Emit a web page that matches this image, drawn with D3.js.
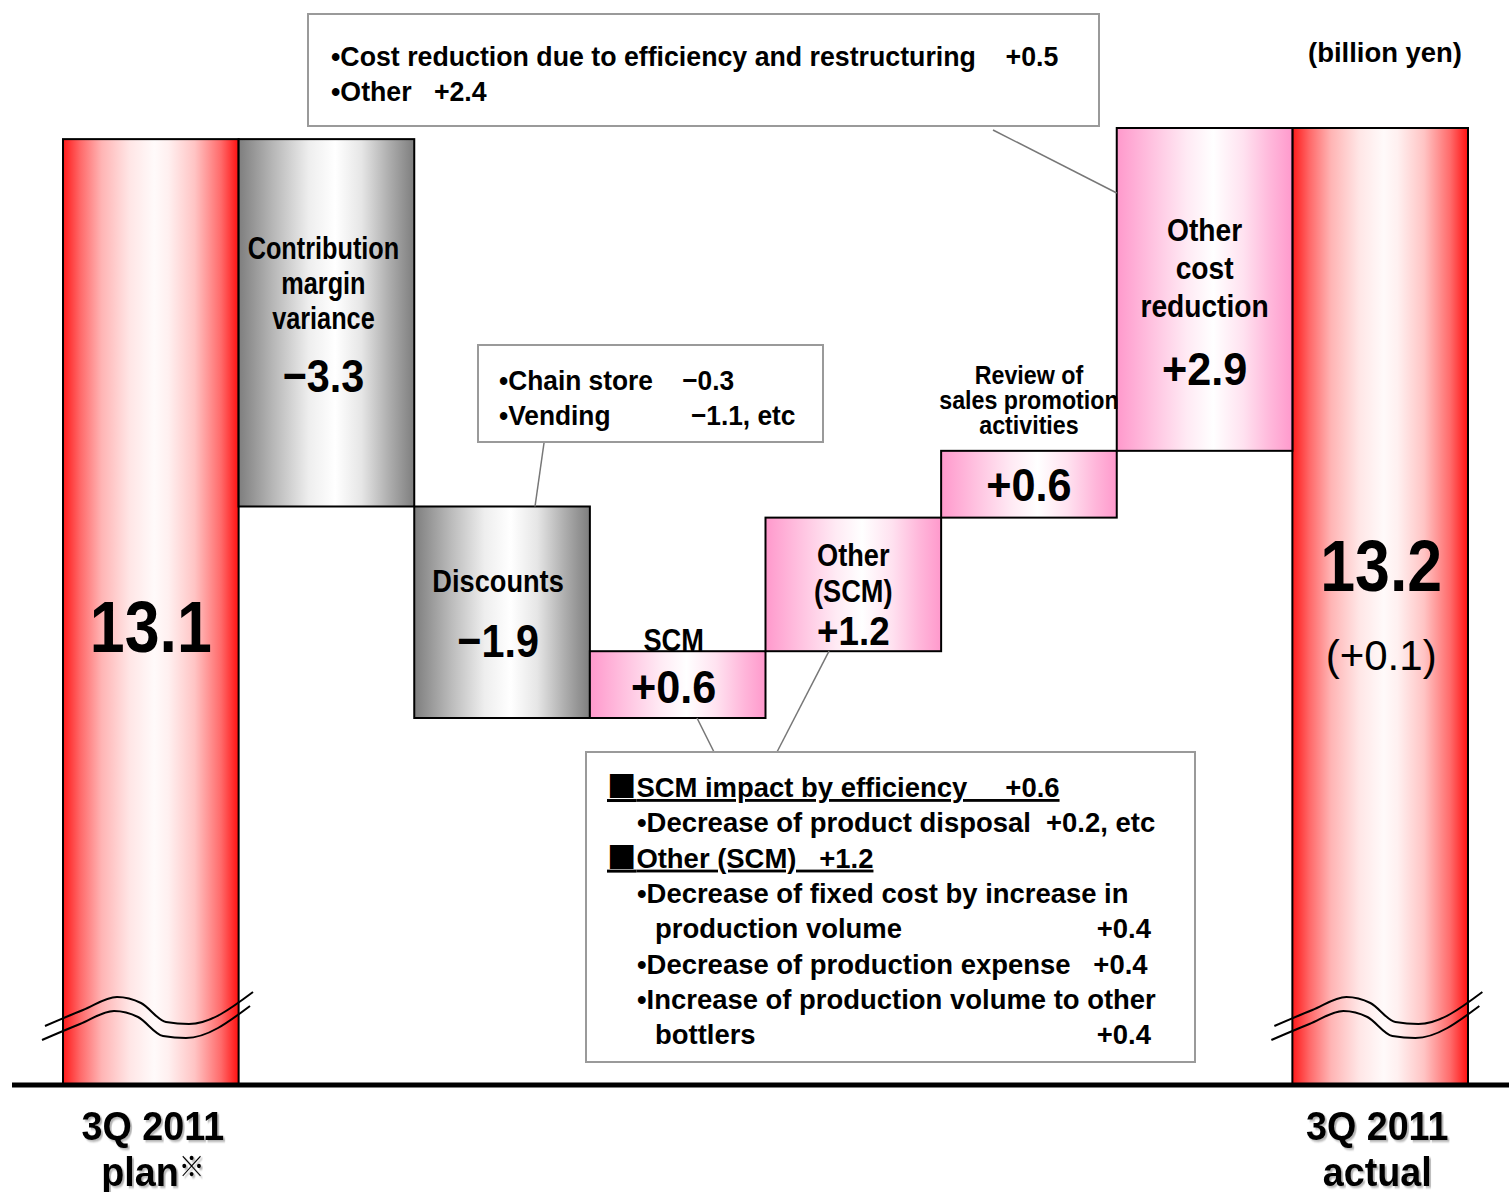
<!DOCTYPE html>
<html>
<head>
<meta charset="utf-8">
<script src="https://cdn.jsdelivr.net/npm/d3@7"></script>
<style>
  html, body { margin: 0; padding: 0; background: #fff; }
  svg { display: block; }
  text { font-family: "Liberation Sans", Arial, "Noto Sans CJK JP", sans-serif; font-weight: bold; fill: #000; white-space: pre; }
  .cjk { font-family: "Noto Sans CJK JP", sans-serif; }
</style>
</head>
<body>
<svg id="chart" width="1509" height="1192"></svg>
<script>
// Operating income bridge, 3Q 2011 plan -> actual (billion yen)
const categories = ["3Q 2011 plan※", "Contribution margin variance", "Discounts", "SCM",
                    "Other (SCM)", "Review of sales promotion activities", "Other cost reduction", "3Q 2011 actual"];
const startValue = 13.1;
const deltas = [-3.3, -1.9, 0.6, 1.2, 0.6, 2.9];
const endValue = 13.2;
const endChange = 0.1;
const axisLabels = [["3Q 2011", "plan", "※"], ["3Q 2011", "actual", ""]];
const barNames = [
  ["Contribution", "margin", "variance"],
  ["Discounts"],
  ["SCM"],
  ["Other", "(SCM)"],
  ["Review of", "sales promotion", "activities"],
  ["Other", "cost", "reduction"]
];
const unitLabel = "(billion yen)";
const noteCost = ["•Cost reduction due to efficiency and restructuring    +0.5", "•Other   +2.4"];
const noteDiscounts = ["•Chain store    −0.3", "•Vending           −1.1, etc"];
const noteSCM = [
  { m: "■", t: "SCM impact by efficiency     +0.6", x: 0 },
  { t: "•Decrease of product disposal  +0.2, etc", x: 30 },
  { m: "■", t: "Other (SCM)   +1.2", x: 0 },
  { t: "•Decrease of fixed cost by increase in", x: 30 },
  { t: "production volume", x: 48, v: "+0.4" },
  { t: "•Decrease of production expense   +0.4", x: 30 },
  { t: "•Increase of production volume to other", x: 30 },
  { t: "bottlers", x: 48, v: "+0.4" }
];

const svg = d3.select("#chart");
const W = 1509;
const baseY = 1085;

const x = d3.scaleBand().domain(categories).range([63, 1468]).padding(0);
const y = d3.scaleLinear().domain([7.9, 13.2]).range([718, 128]);

// Gradients
const defs = svg.append("defs");
function grad(id, stops) {
  const g = defs.append("linearGradient").attr("id", id).attr("x1", 0).attr("x2", 1).attr("y1", 0).attr("y2", 0);
  stops.forEach(([o, c]) => g.append("stop").attr("offset", o).attr("stop-color", c));
}
grad("gRed", [[0, "#ff1a1a"], [0.1, "#ff6a6a"], [0.22, "#ffb4b4"], [0.38, "#ffe6e6"], [0.52, "#fffafa"], [0.6, "#fff0f0"], [0.75, "#ffc4c4"], [0.9, "#ff6a6a"], [1, "#ff1010"]]);
grad("gGray", [[0, "#7e7e7e"], [0.2, "#b8b8b8"], [0.4, "#eeeeee"], [0.55, "#ffffff"], [0.7, "#e6e6e6"], [0.85, "#b0b0b0"], [1, "#7e7e7e"]]);
grad("gPink", [[0, "#ff99cc"], [0.2, "#ffc2e0"], [0.4, "#ffeaf4"], [0.55, "#ffffff"], [0.72, "#ffe2f0"], [0.88, "#ffb6da"], [1, "#ff99cc"]]);
const sh = defs.append("filter").attr("id", "shadow").attr("x", "-10%").attr("y", "-10%").attr("width", "130%").attr("height", "130%");
sh.append("feDropShadow").attr("dx", 2).attr("dy", 2).attr("stdDeviation", 0.8).attr("flood-color", "#000").attr("flood-opacity", 0.3);

// Step bars
const steps = [];
let run = startValue;
deltas.forEach((d, i) => {
  const from = run, to = run + d;
  steps.push({ cat: categories[i + 1], d, from, to, top: y(Math.max(from, to)), bottom: y(Math.min(from, to)) });
  run = to;
});

const gBars = svg.append("g");
// Totals (broken axis: extend to baseline)
const totals = [
  { cat: categories[0], v: startValue },
  { cat: categories[categories.length - 1], v: endValue }
];
gBars.selectAll("rect.total").data(totals).join("rect")
  .attr("class", "total")
  .attr("x", d => x(d.cat)).attr("width", x.bandwidth())
  .attr("y", d => y(d.v)).attr("height", d => baseY - y(d.v))
  .attr("fill", "url(#gRed)").attr("stroke", "#000").attr("stroke-width", 2);

gBars.selectAll("rect.step").data(steps).join("rect")
  .attr("class", "step")
  .attr("x", d => x(d.cat)).attr("width", x.bandwidth())
  .attr("y", d => d.top).attr("height", d => d.bottom - d.top)
  .attr("fill", d => d.d < 0 ? "url(#gGray)" : "url(#gPink)")
  .attr("stroke", "#000").attr("stroke-width", 2);

// Axis break marks (two parallel wavy lines)
const breakShape = [[-18, 35], [20, 19], [54, 6], [78, 12], [103, 31], [126, 33], [190, 1]];
const wave = d3.line().curve(d3.curveMonotoneX);
totals.forEach(t => {
  const x0 = x(t.cat);
  [[0, 0], [-3, 14]].forEach(([ox, oy]) => {
    svg.append("path")
      .attr("d", wave(breakShape.map(([dx, dy]) => [x0 + dx + ox, 991 + dy + oy])))
      .attr("fill", "none").attr("stroke", "#000").attr("stroke-width", 2);
  });
});

// Baseline
svg.append("line").attr("x1", 12).attr("x2", W).attr("y1", baseY).attr("y2", baseY)
  .attr("stroke", "#000").attr("stroke-width", 5);

// Text helper: horizontally condensed text anchored at (tx, ty)
function txt(str, tx, ty, size, k, anchor) {
  return svg.append("text")
    .attr("transform", `translate(${tx},${ty}) scale(${k},1)`)
    .attr("text-anchor", anchor || "middle")
    .attr("font-size", size).text(str);
}
function fmt(v) { return (v > 0 ? "+" : "−") + Math.abs(v).toFixed(1); }

// Totals labels
const cxL = x(categories[0]) + x.bandwidth() / 2;
const cxR = x(categories[7]) + x.bandwidth() / 2;
txt(startValue.toFixed(1), cxL, 652, 72, 0.87);
txt(endValue.toFixed(1), cxR + 1, 591, 72, 0.87);
txt("(" + (endChange > 0 ? "+" : "−") + Math.abs(endChange).toFixed(1) + ")", cxR + 1, 670, 42, 1).style("font-weight", "normal");

// Step labels
const cx = i => x(steps[i].cat) + x.bandwidth() / 2;
// Contribution margin variance
barNames[0].forEach((s, k) => txt(s, cx(0) - 3, steps[0].top + 120 + 35 * k, 32, 0.79));
txt(fmt(deltas[0]), cx(0) - 3, steps[0].top + 253, 47, 0.88);
// Discounts
txt(barNames[1][0], cx(1) - 4, steps[1].bottom - 126, 32, 0.85);
txt(fmt(deltas[1]), cx(1) - 4, steps[1].bottom - 61, 47, 0.88);
// SCM
txt(barNames[2][0], cx(2) - 4, steps[2].top, 32, 0.85);
txt(fmt(deltas[2]), cx(2) - 4, steps[2].top + 52, 47, 0.92);
// Other (SCM)
txt(barNames[3][0], cx(3), steps[3].bottom - 85, 32, 0.85);
txt(barNames[3][1], cx(3), steps[3].bottom - 49, 32, 0.85);
txt(fmt(deltas[3]), cx(3), steps[3].bottom - 6, 40, 0.92);
// Review of sales promotion activities
barNames[4].forEach((s, k) => txt(s, cx(4), steps[4].top - 67 + 25 * k, 25, 0.93));
txt(fmt(deltas[4]), cx(4), steps[4].top + 50, 47, 0.92);
// Other cost reduction
barNames[5].forEach((s, k) => txt(s, cx(5), steps[5].top + 113 + 38 * k, 32, 0.88));
txt(fmt(deltas[5]), cx(5), steps[5].top + 257, 47, 0.92);

// Category labels below axis
[cxL + 2, cxR - 3].forEach((c, i) => {
  const [l1, l2, mark] = axisLabels[i];
  txt(l1, c, 1140, 41, 0.92).attr("filter", "url(#shadow)");
  const t2 = txt(l2, c, 1186, 41, 0.92).attr("filter", "url(#shadow)");
  if (mark) {
    t2.text(null);
    t2.append("tspan").text(l2);
    t2.append("tspan").attr("class", "cjk").attr("font-size", 28).attr("dy", -9).text(mark);
  }
});

// Unit
txt(unitLabel, 1462, 62, 28, 0.98, "end");

// Callout boxes
function box(x0, y0, w, h) {
  svg.append("rect").attr("x", x0).attr("y", y0).attr("width", w).attr("height", h)
    .attr("fill", "#fff").attr("stroke", "#9a9a9a").attr("stroke-width", 2);
}
function leader(x1, y1, x2, y2) {
  svg.append("line").attr("x1", x1).attr("y1", y1).attr("x2", x2).attr("y2", y2)
    .attr("stroke", "#777").attr("stroke-width", 1.5);
}

// Other cost reduction breakdown
leader(993, 130, x(steps[5].cat), steps[5].top + 65);
box(308, 14, 791, 112);
noteCost.forEach((s, k) => txt(s, 331, 66 + 35 * k, 27, 0.99, "start"));

// Discounts breakdown
leader(544, 443, 535, steps[1].top);
box(478, 345, 345, 97);
noteDiscounts.forEach((s, k) => txt(s, 499, 390 + 35 * k, 28, 0.94, "start"));

// SCM breakdown
leader(697, steps[2].bottom, 714, 752);
leader(829, steps[3].bottom, 777, 752);
box(586, 752, 609, 310);
noteSCM.forEach((r, k) => {
  const yy = 797 + 35.3 * k;
  const t = txt(r.m ? "" : r.t, 607 + r.x, yy, 28, 0.98, "start");
  if (r.m) {
    t.attr("text-decoration", "underline");
    t.append("tspan").attr("class", "cjk").attr("font-size", 30).text(r.m);
    t.append("tspan").text(r.t);
  }
  if (r.v) txt(r.v, 1151, yy, 28, 0.98, "end");
});
</script>
</body>
</html>
